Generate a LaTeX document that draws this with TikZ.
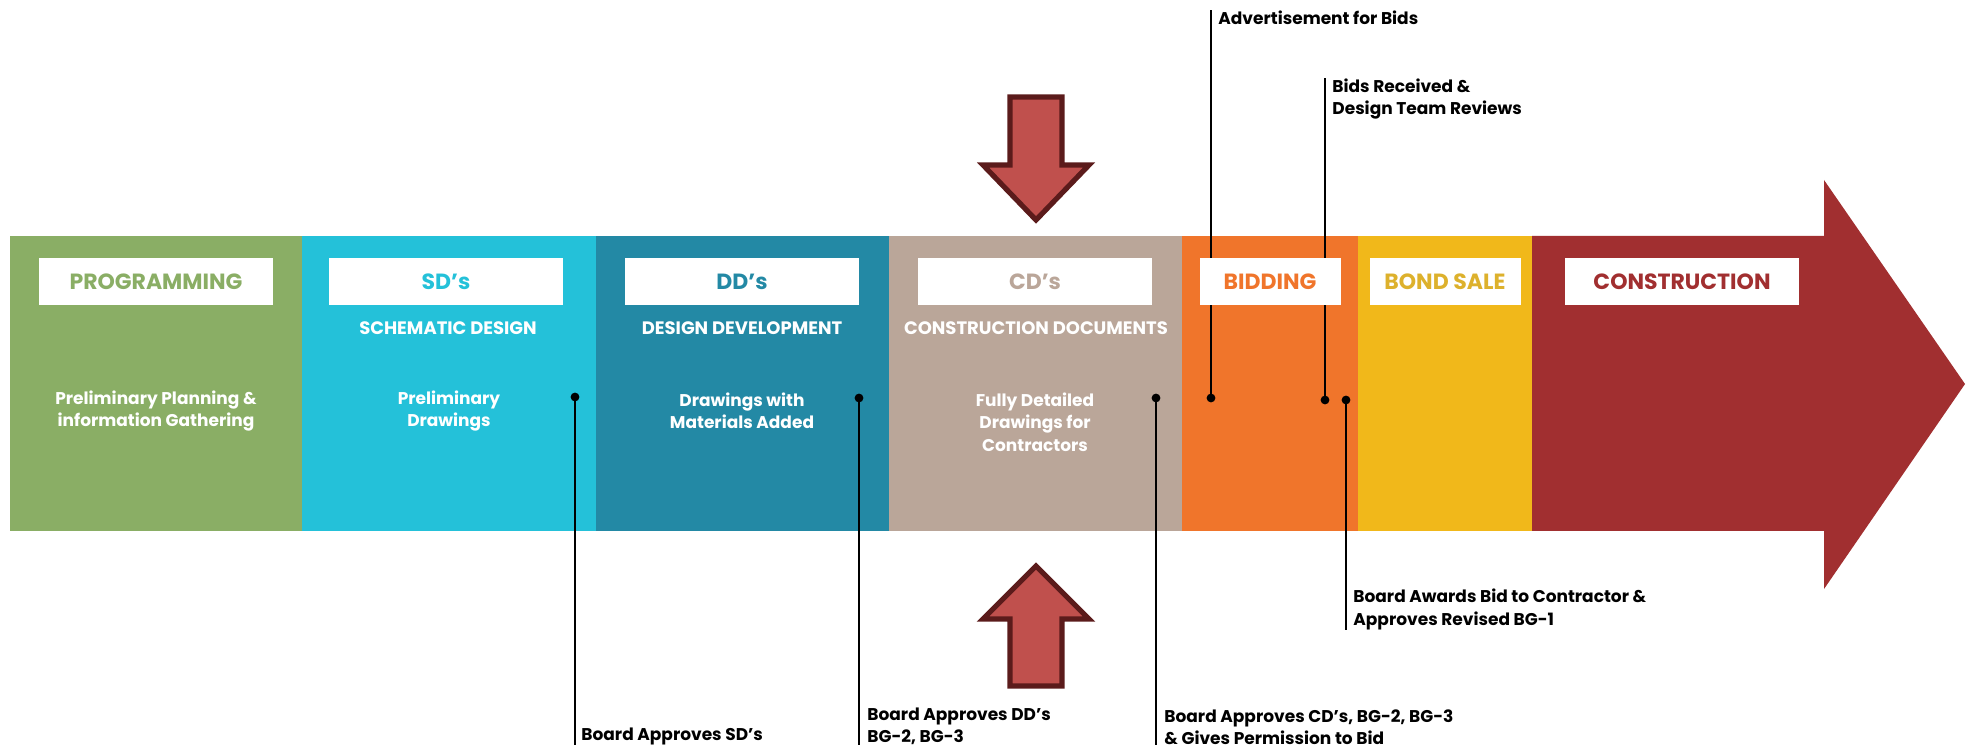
\documentclass[tikz,border=0pt]{standalone}
\usepackage{fontspec}
\setmainfont{Poppins}
\definecolor{progreen}{HTML}{8AAE65}
\definecolor{sdcyan}{HTML}{24C1D9}
\definecolor{ddteal}{HTML}{2389A5}
\definecolor{cdtan}{HTML}{BAA699}
\definecolor{bidorange}{HTML}{F0752B}
\definecolor{bondyellow}{HTML}{F1B81A}
\definecolor{bondtext}{HTML}{DDB12C}
\definecolor{conred}{HTML}{A12F30}
\definecolor{arrowfill}{HTML}{C0504D}
\definecolor{arrowedge}{HTML}{5B1B1B}
\begin{document}
\begin{tikzpicture}[
    x=0.5pt, y=-0.5pt,
    every node/.style={inner sep=0pt},
    tagbox/.style={fill=white, minimum width=117pt, minimum height=23.5pt, font=\bfseries\fontsize{11}{13}\selectfont},
    phase/.style={text=white, font=\bfseries\fontsize{9}{11}\selectfont},
    blurb/.style={text=white, align=center, font=\bfseries\fontsize{8.5}{11.2}\selectfont},
    note/.style={align=left, font=\bfseries\fontsize{8.5}{11.2}\selectfont},
    leader/.style={black, line width=1.2pt},
    bigarrow/.style={fill=arrowfill, draw=arrowedge, line width=2.6pt}
]
\useasboundingbox (0,0) rectangle (1973,747);

% timeline band
\fill[progreen] (10,236) rectangle (302,531);
\fill[sdcyan] (302,236) rectangle (596,531);
\fill[ddteal] (596,236) rectangle (889,531);
\fill[cdtan] (889,236) rectangle (1182,531);
\fill[bidorange] (1182,236) rectangle (1358,531);
\fill[bondyellow] (1358,236) rectangle (1532,531);
\fill[conred] (1532,236) -- (1824,236) -- (1824,180) -- (1965,384) -- (1824,589) -- (1824,531) -- (1532,531) -- cycle;

% milestones above the band
\coordinate (advDot) at (1211,398);
\coordinate (bidsDot) at (1325,400);
\node[note, anchor=north west] (advNote) at (1218,10) {Advertisement for Bids};
\node[note, anchor=north west] (bidsNote) at (1332,78) {Bids Received \&\\Design Team Reviews};
\draw[leader] (advDot) -- (advDot |- advNote.north);
\draw[leader] (bidsDot) -- (bidsDot |- bidsNote.north);

% phase tags
\node[tagbox, text=progreen] (prog) at (156,281.5) {PROGRAMMING};
\node[tagbox, text=sdcyan] (sd) at (446,281.5) {SD's};
\node[tagbox, text=ddteal] (dd) at (742,281.5) {DD's};
\node[tagbox, text=cdtan] (cd) at (1035,281.5) {CD's};
\node[tagbox, text=bidorange, minimum width=70.5pt] (bid) at (1270,281.5) {BIDDING};
\node[tagbox, text=bondtext, minimum width=75.5pt] (bond) at (1445,281.5) {BOND SALE};
\node[tagbox, text=conred] (con) at (1682,281.5) {CONSTRUCTION};

\node[phase] (sdName) at (448,328) {SCHEMATIC DESIGN};
\node[phase] (ddName) at (742,328) {DESIGN DEVELOPMENT};
\node[phase] (cdName) at (1036,328) {CONSTRUCTION DOCUMENTS};

\node[blurb] (progText) at (156,411) {Preliminary Planning \&\\information Gathering};
\node[blurb] (sdText) at (449,411) {Preliminary\\Drawings};
\node[blurb] (ddText) at (742,411) {Drawings with\\Materials Added};
\node[blurb] (cdText) at (1035,422) {Fully Detailed\\Drawings for\\Contractors};

% milestones below the band
\coordinate (sdDot) at (575,397);
\coordinate (ddDot) at (859,398);
\coordinate (cdDot) at (1156,398);
\coordinate (awardDot) at (1346,400);
\node[note, anchor=south west] (sdNote) at (581,745) {Board Approves SD's};
\node[note, anchor=south west] (ddNote) at (867,745) {Board Approves DD's\\BG-2, BG-3};
\node[note, anchor=south west] (cdNote) at (1164,745) {Board Approves CD's, BG-2, BG-3\\\& Gives Permission to Bid};
\node[note, anchor=south west] (awardNote) at (1353,630) {Board Awards Bid to Contractor \&\\Approves Revised BG-1};
\draw[leader] (sdDot) -- (sdDot |- sdNote.south);
\draw[leader] (ddDot) -- (ddDot |- ddNote.south);
\draw[leader] (cdDot) -- (cdDot |- cdNote.south);
\draw[leader] (awardDot) -- (awardDot |- awardNote.south);

\foreach \d in {advDot, bidsDot, sdDot, ddDot, cdDot, awardDot}
    \fill (\d) circle (2.2pt);

% pointers to the CD phase
\draw[bigarrow] (1010,97) -- (1062,97) -- (1062,165) -- (1089,165) -- (1036,220) -- (983,165) -- (1010,165) -- cycle;
\draw[bigarrow] (1036,566) -- (1089,619) -- (1062,619) -- (1062,686) -- (1010,686) -- (1010,619) -- (983,619) -- cycle;

\end{tikzpicture}
\end{document}
